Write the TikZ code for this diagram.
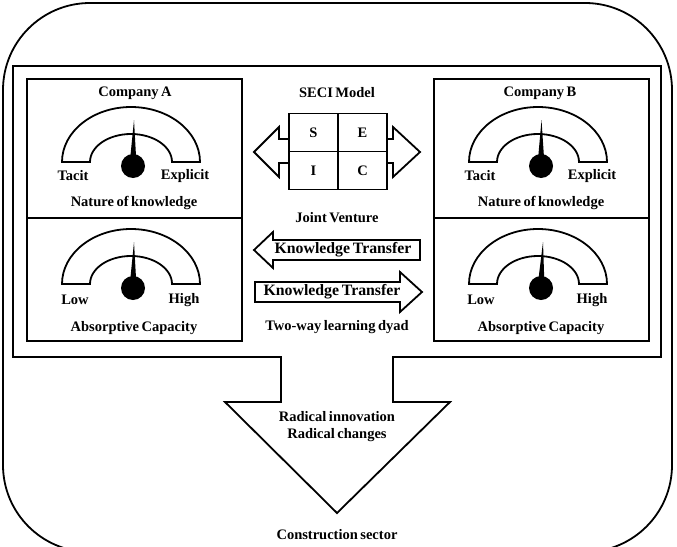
\documentclass[tikz,border=0pt]{standalone}
\usepackage{fontspec}
\setmainfont{Liberation Serif}[WordSpace=0.7]
\newcommand\mygauge[4]{%
  \draw (#1-69,#2) arc[start angle=180,end angle=0,x radius=69pt,y radius=55pt]
        -- (#1+41,#2) arc[start angle=0,end angle=180,x radius=41pt,y radius=28pt] -- cycle;
  \fill (#3-3.5,#2+3) -- (#4,#2-42) -- (#3+3.5,#2+3) -- cycle;
  \fill (#3,#2+4) circle[radius=12pt];
}
\begin{document}
\begin{tikzpicture}[x=1pt,y=-1pt,line width=1.8pt,
  lbl/.style={font=\fontsize{14.5}{16}\selectfont\bfseries,inner sep=0pt},
  ktl/.style={font=\fontsize{15.8}{17}\selectfont\bfseries,inner sep=0pt},
  cell/.style={draw,line width=1.8pt,minimum width=49pt,minimum height=38pt,inner sep=0pt,font=\fontsize{14.5}{16}\selectfont\bfseries}]
\useasboundingbox (0,0) rectangle (677,546);
\clip (0,0) rectangle (677,546);
% outer rounded frame
\draw[rounded corners=87pt] (3,3) rectangle (672,552);
% inner frame with down arrow
\draw (13,66) -- (661,66) -- (661,357) -- (393,357) -- (393,402) -- (450,402)
  -- (337,513) -- (225,402) -- (281,402) -- (281,357) -- (13,357) -- cycle;
% company boxes
\draw (27,79) rectangle (242,341);
\draw (27,218) -- (242,218);
\draw (434,79) rectangle (649,341);
\draw (434,218) -- (649,218);
% gauges
\mygauge{131}{162}{133}{134}
\mygauge{131}{284}{133}{134}
\mygauge{538}{162}{541}{541.5}
\mygauge{538}{284}{541}{543}
% company texts
\node[lbl] (ca) at (135,93) {Company A};
\node[lbl] (cb) at (540,93) {Company B};
\node[lbl] (ta) at (73,176) {Tacit};
\node[lbl] (ea) at (185,176) {Explicit};
\node[lbl] (tb) at (480,176) {Tacit};
\node[lbl] (eb) at (592,176) {Explicit};
\node[lbl] (na) at (134,203) {Nature of knowledge};
\node[lbl] (nb) at (541,203) {Nature of knowledge};
\node[lbl] (la) at (75,300) {Low};
\node[lbl] (ha) at (184,300) {High};
\node[lbl] (lb) at (481,300) {Low};
\node[lbl] (hb) at (592,300) {High};
\node[lbl] (aa) at (134,328) {Absorptive Capacity};
\node[lbl] (ab) at (541,328) {Absorptive Capacity};
% SECI model
\node[lbl] (seci) at (337,93) {SECI Model};
\node[cell] (s) at (313.5,132.5) {S};
\node[cell] (e) at (362.5,132.5) {E};
\node[cell] (i) at (313.5,170.5) {I};
\node[cell] (c) at (362.5,170.5) {C};
\draw (289,139) -- (279,139) -- (279,127) -- (254,152) -- (279,177) -- (279,163) -- (289,163);
\draw (387,139) -- (393,139) -- (393,127) -- (420,152) -- (393,177) -- (393,163) -- (387,163);
\node[lbl] (jv) at (337,218) {Joint Venture};
% knowledge transfer arrows
\draw (420,240) -- (273,240) -- (273,232) -- (254,250) -- (273,268) -- (273,260) -- (420,260) -- cycle;
\node[ktl] (kt1) at (343,250) {Knowledge Transfer};
\draw (255,282) -- (400,282) -- (400,272) -- (422,292) -- (400,312) -- (400,302) -- (255,302) -- cycle;
\node[ktl] (kt2) at (332,292) {Knowledge Transfer};
\node[lbl] (tw) at (337,327) {Two-way learning dyad};
% bottom texts
\node[lbl] (ri) at (337,417) {Radical innovation};
\node[lbl] (rc) at (337,435) {Radical changes};
\node[lbl] (cs) at (337,535) {Construction sector};
\end{tikzpicture}
\end{document}
